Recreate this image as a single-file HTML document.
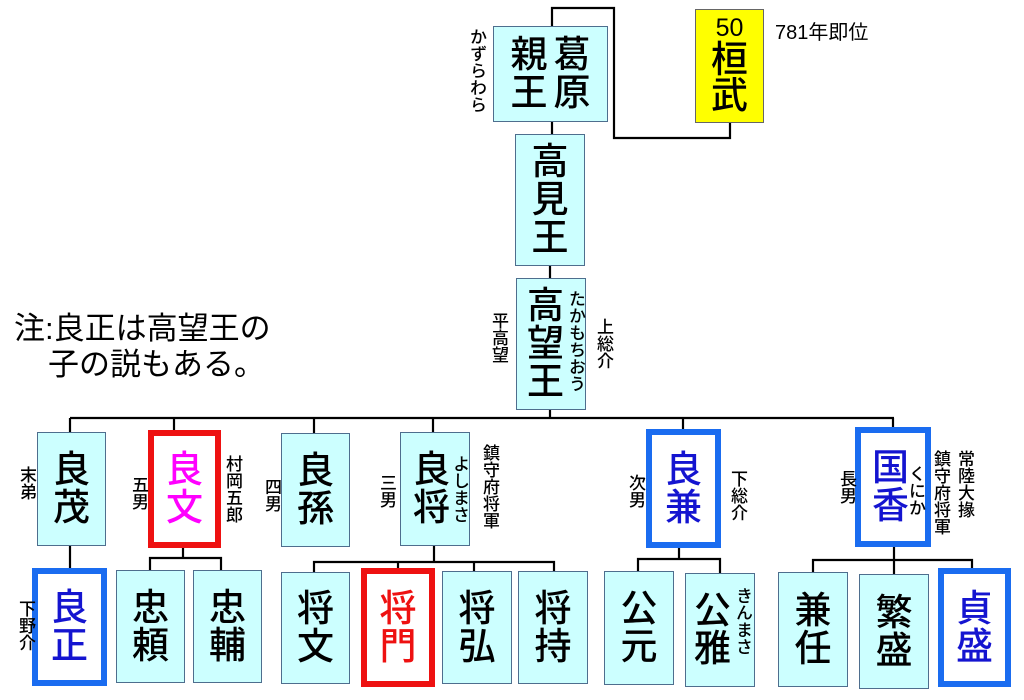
<!DOCTYPE html>
<html><head><meta charset="utf-8"><style>
body{margin:0;width:1024px;height:700px;background:#fff;position:relative;overflow:hidden;font-family:"Liberation Sans","Noto Sans CJK JP",sans-serif;}
.b{position:absolute;box-sizing:border-box;background:#ccffff;border:1.5px solid #4e6e8e;display:flex;flex-direction:column;align-items:center;justify-content:center;font-size:37px;line-height:38px;color:#000;font-weight:500;}
.red{background:#fff;border:6px solid #ee1111;color:#ee1111;}
.blu{background:#fff;border:6px solid #1a6cf0;color:#1414d0;}
.v{position:absolute;writing-mode:vertical-rl;font-size:17px;line-height:18px;color:#000;font-weight:500;}
.t{position:absolute;font-size:20px;color:#000;white-space:nowrap;}
svg{position:absolute;left:0;top:0;}
</style></head><body>
<svg width="1024" height="700"><g stroke="#000" stroke-width="2.2" fill="none">
<polyline points="552,26 552,8 614,8 614,138 730,138 730,123"/>
<line x1="552" y1="121" x2="552" y2="134"/>
<line x1="550" y1="265" x2="550" y2="278"/>
<line x1="550" y1="410" x2="550" y2="418"/>
<line x1="70" y1="418" x2="894" y2="418"/>
<line x1="70" y1="418" x2="70" y2="432"/>
<line x1="174" y1="418" x2="174" y2="430"/>
<line x1="314" y1="418" x2="314" y2="433"/>
<line x1="433" y1="418" x2="433" y2="432"/>
<line x1="683" y1="418" x2="683" y2="429"/>
<line x1="893" y1="418" x2="893" y2="428"/>
<line x1="70" y1="545" x2="70" y2="568"/>
<polyline points="150,570 150,558 221,558 221,570"/><line x1="183" y1="547" x2="183" y2="558"/>
<polyline points="314,572 314,562 554,562 554,571"/><line x1="434" y1="545" x2="434" y2="562"/>
<line x1="398" y1="562" x2="398" y2="568"/><line x1="474" y1="562" x2="474" y2="571"/>
<polyline points="638,571 638,559 720,559 720,573"/><line x1="679" y1="547" x2="679" y2="559"/>
<polyline points="813,572 813,560 972,560 972,568"/><line x1="894" y1="546" x2="894" y2="574"/>
</g></svg>

<div class="b" style="left:493px;top:26px;width:115px;height:96px;flex-direction:row-reverse;gap:6px;"><div>葛<br>原</div><div>親<br>王</div></div>
<div class="v" style="left:467px;top:28px;">かずらわら</div>
<div class="b" style="left:695px;top:9px;width:69px;height:114px;background:#ffff00;border-color:#666;line-height:36px;padding-bottom:4px;"><div style="font-size:25px;line-height:28px;">50</div><div>桓</div><div>武</div></div>
<div class="t" style="left:775px;top:16px;">781年即位</div>

<div class="b" style="left:515px;top:134px;width:70px;height:132px;"><div>高</div><div>見</div><div>王</div></div>
<div class="b" style="left:516px;top:278px;width:70px;height:132px;align-items:flex-start;padding-left:10px;"><div>高</div><div>望</div><div>王</div></div>
<div class="v" style="left:566px;top:290px;">たかもちおう</div>
<div class="v" style="left:489px;top:312px;">平高望</div>
<div class="v" style="left:594px;top:318px;">上総介</div>

<div class="t" style="left:14px;top:311px;font-size:31px;line-height:36px;">注:良正は高望王の<br><span style="padding-left:34px">子の説もある。</span></div>

<div class="b" style="left:37px;top:432px;width:69px;height:114px;"><div>良</div><div>茂</div></div>
<div class="v" style="left:17px;top:466px;">末弟</div>
<div class="b red" style="left:148px;top:430px;width:73px;height:118px;color:#ff00ff;"><div>良</div><div>文</div></div>
<div class="v" style="left:129px;top:476px;">五男</div>
<div class="v" style="left:223px;top:455px;">村岡五郎</div>
<div class="b" style="left:281px;top:433px;width:69px;height:114px;"><div>良</div><div>孫</div></div>
<div class="v" style="left:262px;top:478px;">四男</div>
<div class="b" style="left:400px;top:432px;width:70px;height:114px;align-items:flex-start;padding-left:12px;"><div>良</div><div>将</div></div>
<div class="v" style="left:450px;top:455px;">よしまさ</div>
<div class="v" style="left:377px;top:474px;">三男</div>
<div class="v" style="left:480px;top:444px;">鎮守府将軍</div>
<div class="b blu" style="left:646px;top:429px;width:75px;height:119px;"><div>良</div><div>兼</div></div>
<div class="v" style="left:626px;top:474px;">次男</div>
<div class="v" style="left:728px;top:470px;">下総介</div>
<div class="b blu" style="left:855px;top:427px;width:76px;height:120px;align-items:flex-start;padding-left:11px;"><div>国</div><div>香</div></div>
<div class="v" style="left:906px;top:465px;">くにか</div>
<div class="v" style="left:837px;top:470px;">長男</div>
<div class="v" style="left:931px;top:450px;">鎮守府将軍</div>
<div class="v" style="left:955px;top:450px;">常陸大掾</div>

<div class="b blu" style="left:32px;top:568px;width:75px;height:118px;"><div>良</div><div>正</div></div>
<div class="v" style="left:16px;top:600px;">下野介</div>
<div class="b" style="left:116px;top:570px;width:69px;height:113px;"><div>忠</div><div>頼</div></div>
<div class="b" style="left:193px;top:570px;width:69px;height:113px;"><div>忠</div><div>輔</div></div>
<div class="b" style="left:281px;top:572px;width:69px;height:112px;"><div>将</div><div>文</div></div>
<div class="b red" style="left:361px;top:568px;width:74px;height:119px;"><div>将</div><div>門</div></div>
<div class="b" style="left:442px;top:571px;width:70px;height:113px;"><div>将</div><div>弘</div></div>
<div class="b" style="left:518px;top:571px;width:70px;height:113px;"><div>将</div><div>持</div></div>
<div class="b" style="left:604px;top:571px;width:70px;height:114px;"><div>公</div><div>元</div></div>
<div class="b" style="left:685px;top:573px;width:70px;height:114px;align-items:flex-start;padding-left:8px;"><div>公</div><div>雅</div></div>
<div class="v" style="left:733px;top:587px;">きんまさ</div>
<div class="b" style="left:778px;top:572px;width:70px;height:115px;"><div>兼</div><div>任</div></div>
<div class="b" style="left:859px;top:574px;width:70px;height:115px;"><div>繁</div><div>盛</div></div>
<div class="b blu" style="left:938px;top:568px;width:73px;height:119px;"><div>貞</div><div>盛</div></div>
</body></html>
